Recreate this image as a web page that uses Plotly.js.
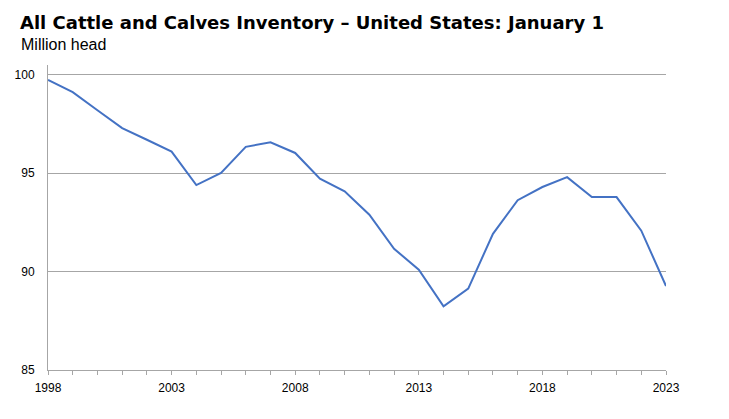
<!DOCTYPE html>
<html>
<head>
<meta charset="utf-8">
<script src="https://cdn.plot.ly/plotly-3.0.1.min.js"></script>
<style>
html,body{margin:0;padding:0;background:#fff;}
#chart{width:729px;height:419px;}
</style>
</head>
<body>
<div id="chart"></div>
<script>
const years = [1998,1999,2000,2001,2002,2003,2004,2005,2006,2007,2008,2009,2010,2011,2012,2013,2014,2015,2016,2017,2018,2019,2020,2021,2022,2023];
const inventory = [99.74,99.12,98.20,97.29,96.70,96.10,94.40,95.02,96.34,96.57,96.03,94.72,94.08,92.89,91.16,90.10,88.24,89.14,91.92,93.63,94.30,94.80,93.79,93.79,92.08,89.27];
const xTickVals = [1998,2003,2008,2013,2018,2023];
const xTickText = ["1998","2003","2008","2013","2018","2023"];
const yTickVals = [85,90,95,100];
const yTickText = ["85","90","95","100"];
const titleText = "All Cattle and Calves Inventory \u2013 United States: January 1";
const subtitleText = "Million head";

const trace = {
  x: years, y: inventory, type: 'scatter', mode: 'lines',
  line: {color: '#4472C4', width: 2}, hoverinfo: 'x+y', showlegend: false
};

const layout = {
  width: 729, height: 419,
  margin: {l: 48, r: 63, t: 65, b: 49},
  paper_bgcolor: '#fff', plot_bgcolor: '#fff',
  font: {family: 'Liberation Sans, Arial, sans-serif', color: '#000'},
  title: {
    text: '<b>' + titleText + '</b>',
    font: {family: 'DejaVu Sans, sans-serif', size: 18, color: '#000'},
    xref: 'container', x: 20/729, xanchor: 'left',
    yref: 'container', y: 1 - 29/419, yanchor: 'bottom'
  },
  annotations: [{
    text: subtitleText, xref: 'paper', yref: 'paper',
    x: (19-48)/618, y: 1 + (65-55)/305, xanchor: 'left', yanchor: 'bottom',
    showarrow: false, font: {size: 16, color: '#000'}
  }],
  xaxis: {
    range: [1998, 2023], tickvals: xTickVals, ticktext: xTickText,
    ticks: 'outside', ticklen: 4, tickcolor: '#a6a6a6', tickwidth: 1,
    ticklabelstandoff: 3,
    minor: {dtick: 1, tick0: 1998, ticks: 'outside', ticklen: 4, tickcolor: '#a6a6a6', tickwidth: 1, showgrid: false},
    showline: true, linecolor: '#a6a6a6', linewidth: 1,
    showgrid: false, zeroline: false,
    tickfont: {size: 12, color: '#000'}
  },
  yaxis: {
    range: [85, 100.5], tickvals: yTickVals, ticktext: yTickText,
    ticks: '', showline: true, linecolor: '#a6a6a6', linewidth: 1,
    ticklabelstandoff: 10,
    showgrid: true, gridcolor: '#a6a6a6', gridwidth: 1, zeroline: false,
    tickfont: {size: 12, color: '#000'}
  }
};

Plotly.newPlot('chart', [trace], layout, {displayModeBar: false, staticPlot: true});
</script>
</body>
</html>
